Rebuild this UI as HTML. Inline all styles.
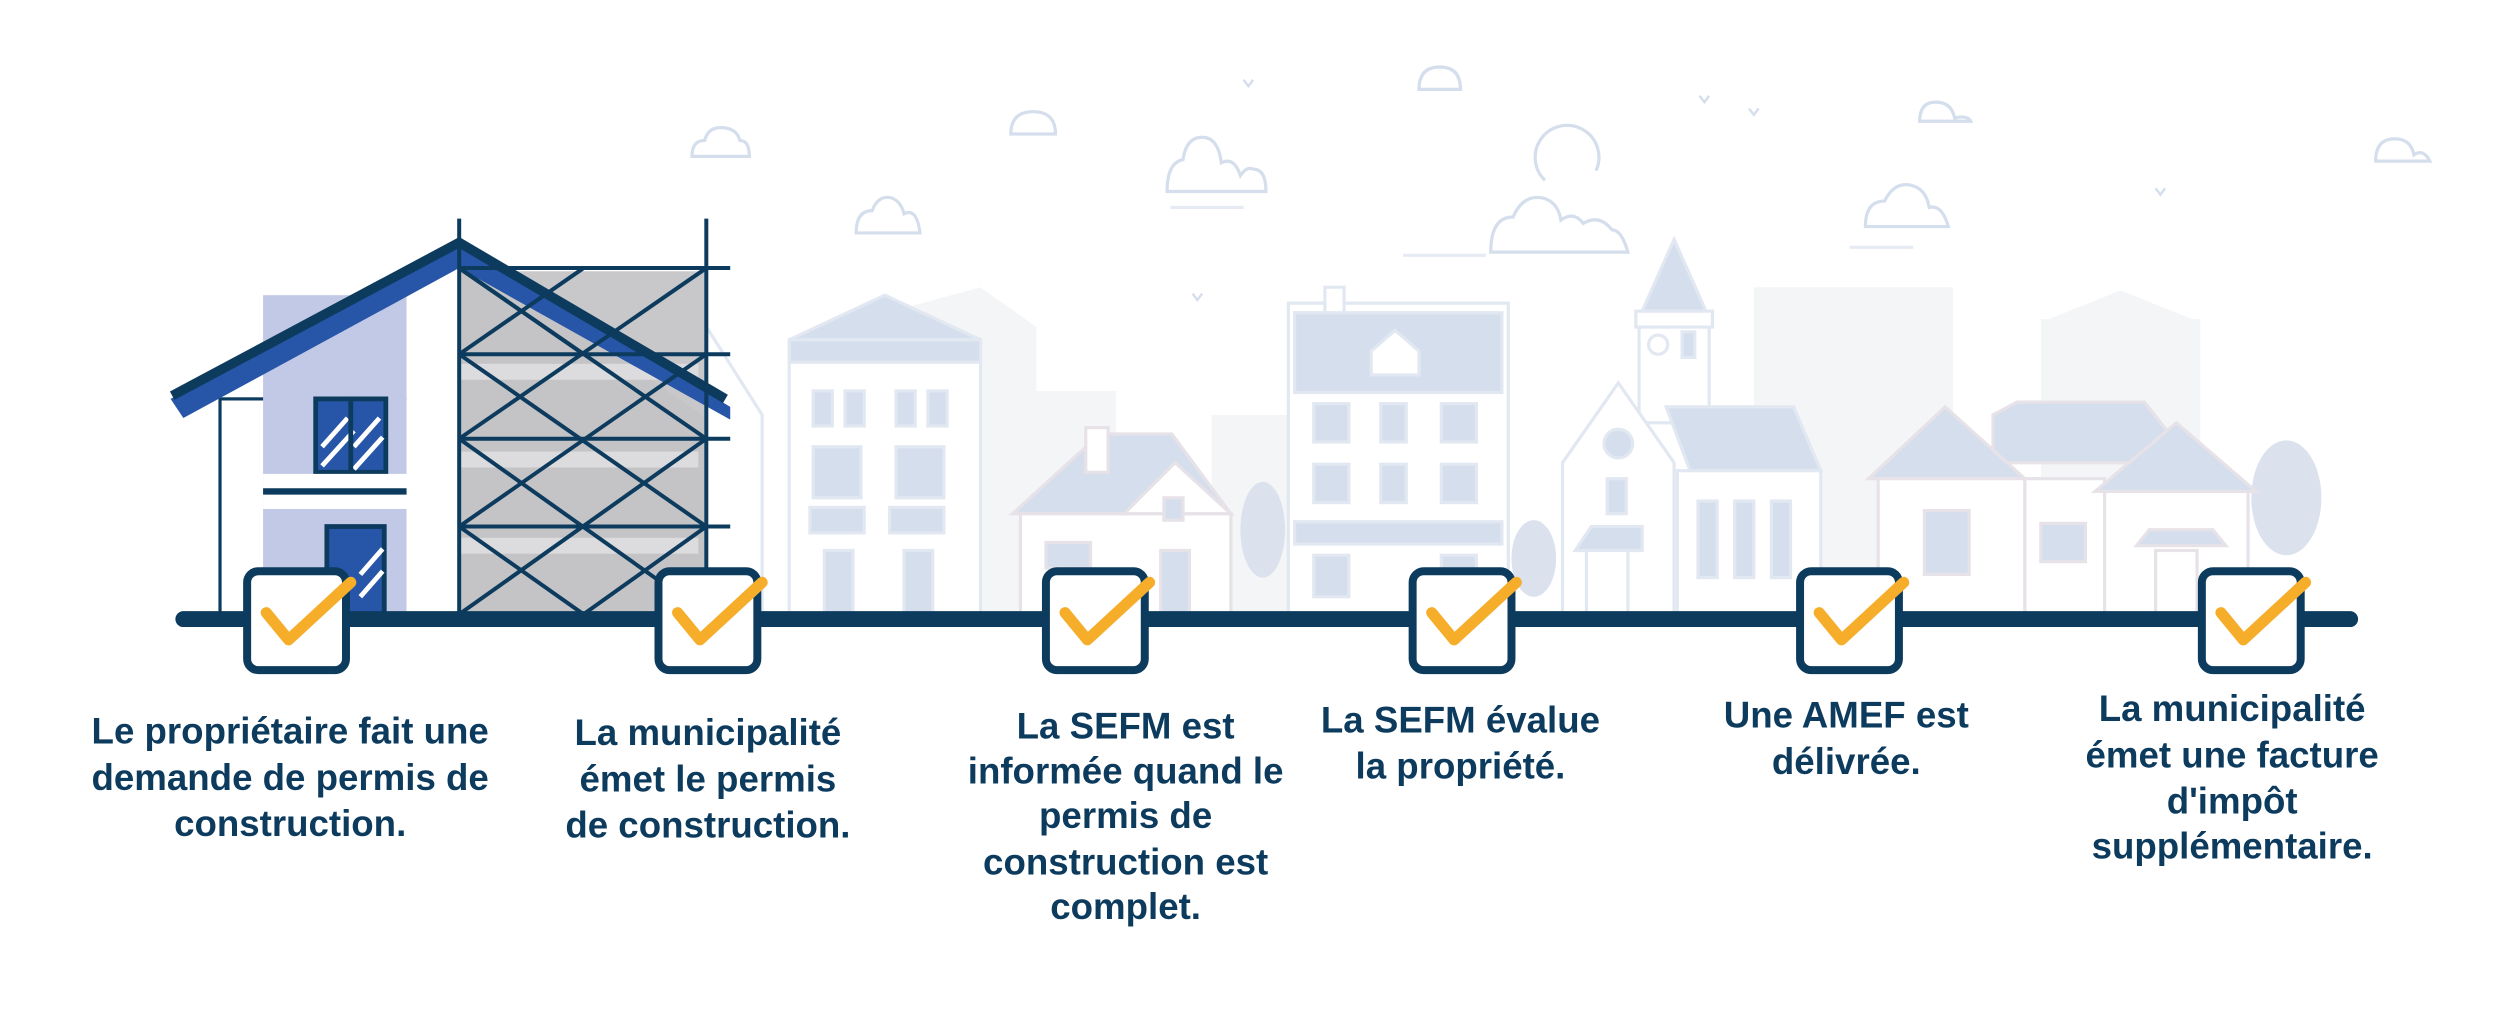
<!DOCTYPE html>
<html><head><meta charset="utf-8"><style>
html,body{margin:0;padding:0;background:#fff;}
svg{display:block;}
text{font-family:"Liberation Sans",sans-serif;font-size:23px;font-weight:bold;fill:#0d3b5e;text-anchor:middle;}
</style></head><body>
<svg width="2500" height="1010" viewBox="0 0 1568 633" preserveAspectRatio="none" xmlns="http://www.w3.org/2000/svg">
<g fill="#f4f5f7">
<polygon points="560,195 615,180 650,205 650,245 700,245 700,385 560,385"/>
<rect x="1100" y="180" width="125" height="205"/>
<rect x="1280" y="200" width="100" height="185"/>
<polygon points="1285,200 1330,182 1375,200"/>
<rect x="760" y="260" width="60" height="125"/>
</g>
<g fill="none" stroke="#d5deec" stroke-width="2">
<path d="M434,98 q0,-10 8,-10 q2,-8 10,-8 q10,0 12,8 q6,0 6,10 z"/>
<path d="M537,146 q0,-14 10,-14 q4,-10 12,-8 q6,2 8,10 q8,-4 10,12 z"/>
<path d="M634,84 q0,-14 14,-14 q14,0 14,14 z"/>
<path d="M732,120 q0,-18 10,-20 q2,-14 12,-14 q10,0 12,16 q8,-4 12,8 q4,-6 8,-4 q8,0 8,14 z"/>
<path d="M890,56 q0,-14 13,-14 q13,0 13,14 z"/>
<path d="M935,158 q0,-22 14,-22 q6,-14 18,-12 q10,2 12,14 q8,-6 14,2 q10,-6 18,4 q6,0 10,14 z"/>
<path d="M969,113 a20,20 0 1 1 32,-6"/>
<path d="M1204,76 q0,-12 10,-12 q10,0 12,10 q8,-2 10,2 z"/>
<path d="M1170,142 q0,-16 12,-16 q6,-12 16,-10 q10,2 12,14 q8,-2 12,12 z"/>
<path d="M1490,101 q0,-14 12,-14 q10,0 12,10 q6,-4 10,4 z"/>
</g>
<g stroke="#e6ebf3" stroke-width="2">
<line x1="734" y1="130" x2="780" y2="130"/><line x1="880" y1="160" x2="932" y2="160"/>
<line x1="1160" y1="155" x2="1200" y2="155"/>
</g>
<g fill="none" stroke="#d5deec" stroke-width="1.5">
<path d="M1066,60 l3,4 l3,-4"/><path d="M1097,68 l3,4 l3,-4"/><path d="M780,50 l3,4 l3,-4"/><path d="M748,184 l3,4 l3,-4"/><path d="M1352,118 l3,4 l3,-4"/>
</g>
<g fill="#dbe2ee">
<ellipse cx="792" cy="332" rx="14" ry="30"/>
<ellipse cx="962" cy="350" rx="14" ry="24"/>
<ellipse cx="1434" cy="312" rx="22" ry="36"/>
<ellipse cx="1250" cy="360" rx="12" ry="22"/>
</g>
<g stroke="#e2e8f1" stroke-width="2">
<polygon points="495,213 555,185 615,213" fill="#d5deec"/>
<rect x="495" y="213" width="120" height="172" fill="#fff"/>
<rect x="495" y="213" width="120" height="14" fill="#d5deec"/>
<rect x="510" y="245" width="12" height="22" fill="#d5deec"/><rect x="530" y="245" width="12" height="22" fill="#d5deec"/>
<rect x="562" y="245" width="12" height="22" fill="#d5deec"/><rect x="582" y="245" width="12" height="22" fill="#d5deec"/>
<rect x="510" y="280" width="30" height="32" fill="#d5deec"/><rect x="562" y="280" width="30" height="32" fill="#d5deec"/>
<rect x="508" y="318" width="34" height="16" fill="#d5deec"/><rect x="558" y="318" width="34" height="16" fill="#d5deec"/>
<rect x="517" y="345" width="18" height="40" fill="#d5deec"/><rect x="567" y="345" width="18" height="40" fill="#d5deec"/>
<polygon points="440,200 478,260 478,385 440,385" fill="#fff"/>
</g>
<g stroke="#e6e2e8" stroke-width="2">
<polygon points="635,322 690,272 735,272 772,322" fill="#d5deec"/>
<rect x="681" y="268" width="14" height="28" fill="#fff"/>
<rect x="640" y="322" width="132" height="63" fill="#fff"/>
<polygon points="705,322 737,290 772,322" fill="#fff"/>
<rect x="656" y="340" width="28" height="16" fill="#d5deec"/>
<rect x="728" y="345" width="18" height="40" fill="#d5deec"/>
<rect x="730" y="312" width="12" height="14" fill="#d5deec"/>
</g>
<g stroke="#e2e8f1" stroke-width="2">
<rect x="808" y="190" width="138" height="195" fill="#fff"/>
<rect x="812" y="196" width="130" height="50" fill="#d5deec"/>
<rect x="831" y="180" width="12" height="16" fill="#fff"/>
<polygon points="860,220 875,207 890,220 890,235 860,235" fill="#fff"/>
<rect x="824" y="253" width="22" height="24" fill="#d5deec"/><rect x="866" y="253" width="16" height="24" fill="#d5deec"/><rect x="904" y="253" width="22" height="24" fill="#d5deec"/>
<rect x="824" y="291" width="22" height="24" fill="#d5deec"/><rect x="866" y="291" width="16" height="24" fill="#d5deec"/><rect x="904" y="291" width="22" height="24" fill="#d5deec"/>
<rect x="812" y="327" width="130" height="14" fill="#d5deec"/>
<rect x="824" y="348" width="22" height="26" fill="#d5deec"/><rect x="904" y="348" width="22" height="26" fill="#d5deec"/>
</g>
<g stroke="#e2e8f1" stroke-width="2">
<polygon points="1030,195 1050,150 1070,195" fill="#d5deec"/>
<rect x="1028" y="195" width="44" height="70" fill="#fff"/>
<rect x="1026" y="195" width="48" height="10" fill="#fff"/>
<circle cx="1040" cy="216" r="6" fill="#fff"/><rect x="1055" y="208" width="8" height="16" fill="#d5deec"/>
<polygon points="1045,255 1125,255 1142,295 1060,295" fill="#d5deec"/>
<rect x="1052" y="295" width="90" height="90" fill="#fff"/>
<polygon points="980,290 1015,240 1050,290 1050,385 980,385" fill="#fff"/>
<circle cx="1015" cy="278" r="9" fill="#d5deec"/>
<rect x="1008" y="300" width="12" height="22" fill="#d5deec"/>
<polygon points="988,345 998,330 1030,330 1030,345" fill="#d5deec"/>
<rect x="995" y="345" width="26" height="40" fill="#fff"/>
<rect x="1065" y="314" width="12" height="48" fill="#d5deec"/><rect x="1088" y="314" width="12" height="48" fill="#d5deec"/><rect x="1111" y="314" width="12" height="48" fill="#d5deec"/>
</g>
<g stroke="#e6e2e8" stroke-width="2">
<polygon points="1250,260 1265,252 1345,252 1375,290 1250,290" fill="#d5deec"/>
<polygon points="1172,300 1220,255 1270,300" fill="#d5deec"/>
<rect x="1178" y="300" width="92" height="85" fill="#fff"/>
<rect x="1270" y="300" width="50" height="85" fill="#fff"/>
<polygon points="1314,308 1365,265 1415,308" fill="#d5deec"/>
<rect x="1320" y="308" width="90" height="77" fill="#fff"/>
<rect x="1207" y="320" width="28" height="40" fill="#d5deec"/>
<rect x="1280" y="328" width="28" height="24" fill="#d5deec"/>
<polygon points="1340,342 1348,332 1388,332 1396,342" fill="#d5deec"/>
<rect x="1352" y="345" width="26" height="40" fill="#fff"/>
</g>
<rect x="138" y="250" width="150" height="135" fill="#fff" stroke="#0d3b5e" stroke-width="2"/>
<rect x="165" y="185" width="90" height="200" fill="#c2c9e6"/>
<rect x="255" y="185" width="33" height="200" fill="#fff"/>
<rect x="198" y="250" width="44" height="46" fill="#2756a8" stroke="#0d3b5e" stroke-width="3"/>
<g stroke="#fff" stroke-width="3"><line x1="202" y1="280" x2="218" y2="262"/><line x1="202" y1="292" x2="222" y2="270"/><line x1="222" y1="280" x2="238" y2="262"/><line x1="222" y1="294" x2="240" y2="274"/></g>
<line x1="220" y1="250" x2="220" y2="296" stroke="#0d3b5e" stroke-width="3"/>
<rect x="165" y="297" width="90" height="22" fill="#fff"/>
<line x1="165" y1="308" x2="255" y2="308" stroke="#0d3b5e" stroke-width="4"/>
<rect x="205" y="330" width="36" height="55" fill="#2756a8" stroke="#0d3b5e" stroke-width="3"/>
<g stroke="#fff" stroke-width="3"><line x1="226" y1="360" x2="240" y2="344"/><line x1="226" y1="374" x2="240" y2="358"/></g>
<rect x="288" y="170" width="155" height="215" fill="#c8c8ca"/>
<polygon points="288,155 443,262 443,385 288,385" fill="#c4c4c6"/>
<g fill="#dcdcde"><rect x="288" y="228" width="150" height="10"/><rect x="288" y="283" width="150" height="10"/><rect x="288" y="337" width="150" height="10"/></g>
<polygon points="107,250 288,152 458,255 458,263 288,168 115,262" fill="#2756a8"/>
<polyline points="108,248 288,152 455,250" fill="none" stroke="#0d3b5e" stroke-width="6"/>
<g stroke="#0d3b5e" stroke-width="2.5" fill="none">
<line x1="288" y1="137" x2="288" y2="385"/><line x1="443" y1="137" x2="443" y2="385"/>
<line x1="288" y1="168" x2="458" y2="168"/><line x1="288" y1="222" x2="458" y2="222"/><line x1="288" y1="275" x2="458" y2="275"/><line x1="288" y1="330" x2="458" y2="330"/>
<line x1="288" y1="168" x2="443" y2="275"/><line x1="443" y1="168" x2="288" y2="275"/>
<line x1="288" y1="222" x2="443" y2="330"/><line x1="443" y1="222" x2="288" y2="330"/>
<line x1="288" y1="275" x2="443" y2="385"/><line x1="443" y1="275" x2="288" y2="385"/>
<line x1="288" y1="330" x2="366" y2="385"/><line x1="443" y1="330" x2="366" y2="385"/>
<line x1="288" y1="168" x2="366" y2="222"/><line x1="366" y1="168" x2="288" y2="222"/>
</g>
<line x1="115" y1="388" x2="1474" y2="388" stroke="#0d3b5e" stroke-width="10" stroke-linecap="round"/>
<g stroke="#0d3b5e" stroke-width="5" fill="#fff">
<rect x="155" y="358" width="62" height="62" rx="7"/>
<rect x="413" y="358" width="62" height="62" rx="7"/>
<rect x="656" y="358" width="62" height="62" rx="7"/>
<rect x="886" y="358" width="62" height="62" rx="7"/>
<rect x="1129" y="358" width="62" height="62" rx="7"/>
<rect x="1381" y="358" width="62" height="62" rx="7"/>
</g>
<g stroke="#f5ad2a" stroke-width="7" fill="none" stroke-linecap="round" stroke-linejoin="round">
<polyline points="167,384 181,401 220,365"/>
<polyline points="425,384 439,401 478,365"/>
<polyline points="668,384 682,401 721,365"/>
<polyline points="898,384 912,401 951,365"/>
<polyline points="1141,384 1155,401 1194,365"/>
<polyline points="1393,384 1407,401 1446,365"/>
</g>
<text x="182" y="466">Le propriétaire fait une</text>
<text x="182" y="495">demande de permis de</text>
<text x="182" y="524">construction.</text>
<text x="444" y="467">La municipalité</text>
<text x="444" y="496">émet le permis</text>
<text x="444" y="525">de construction.</text>
<text x="706" y="463">La SEFM est</text>
<text x="706" y="491">informée quand le</text>
<text x="706" y="519">permis de</text>
<text x="706" y="548">construction est</text>
<text x="706" y="576">complet.</text>
<text x="916" y="459">La SEFM évalue</text>
<text x="916" y="488">la propriété.</text>
<text x="1158" y="456">Une AMEF est</text>
<text x="1158" y="485">délivrée.</text>
<text x="1400" y="452">La municipalité</text>
<text x="1400" y="481">émet une facture</text>
<text x="1400" y="510">d'impôt</text>
<text x="1400" y="538">supplémentaire.</text>
</svg>
</body></html>
